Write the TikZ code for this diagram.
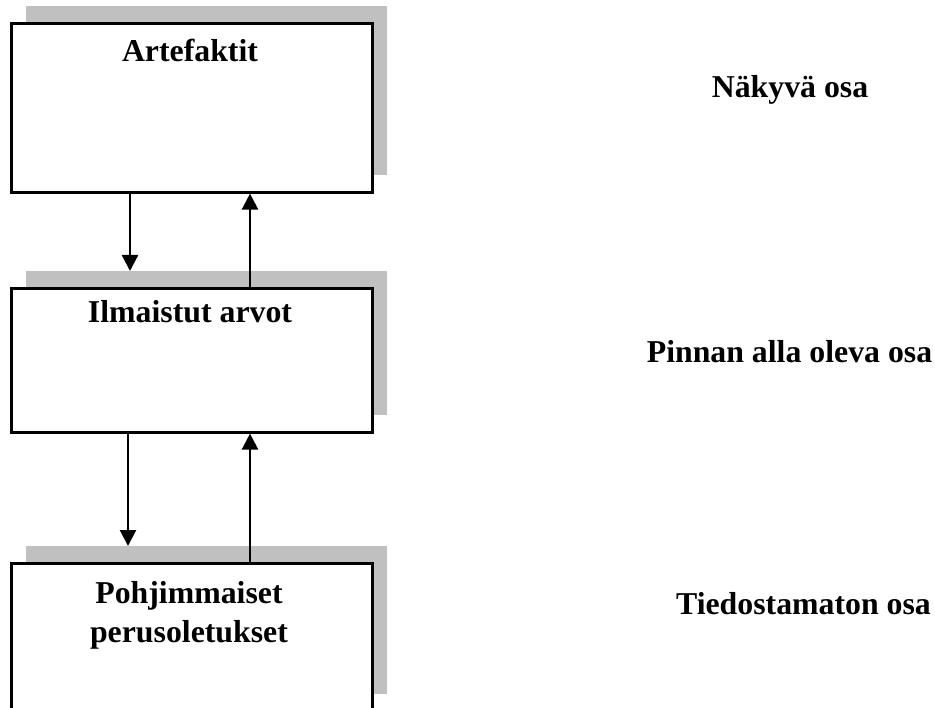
\documentclass[tikz,border=0pt]{standalone}
\usepackage{fontspec}
\setmainfont{Liberation Serif}
\usetikzlibrary{arrows.meta,calc}

\tikzset{
  layerbox/.style={draw=black, fill=white, line width=2.6pt, inner sep=0pt,
    minimum width=361pt, anchor=north west},
  boxshadow/.style={fill=shadowgray, draw=none, inner sep=0pt,
    minimum width=361pt, anchor=north west},
  boxtext/.style={font=\bfseries\fontsize{31.8}{39}\selectfont, inner sep=0pt, align=center},
  sidetext/.style={font=\bfseries\fontsize{31.8}{39}\selectfont, inner sep=0pt, anchor=base},
  flow/.style={line width=2.4pt, -{Triangle[width=16pt,length=16pt]}}
}
\definecolor{shadowgray}{HTML}{C0C0C0}

\begin{document}
\begin{tikzpicture}[x=1pt,y=-1pt]
  \useasboundingbox (0,0) rectangle (935,708);

  % shadows, offset up and to the right
  \node[boxshadow, minimum height=169pt] (s1) at (26,6) {};
  \node[boxshadow, minimum height=144pt] (s2) at (26,271) {};
  \node[boxshadow, minimum height=148pt] (s3) at (26,546) {};

  % the three layers
  \node[layerbox, minimum height=169pt] (b1) at (10,22) {};
  \node[layerbox, minimum height=144pt] (b2) at (10,287) {};
  \node[layerbox, minimum height=150pt] (b3) at (10,562) {};

  % layer titles
  \node[boxtext, anchor=base] (t1) at (190,62) {Artefaktit};
  \node[boxtext, anchor=base] (t2) at (190,323) {Ilmaistut arvot};
  \node[boxtext, anchor=center] (t3) at (189,615.5) {Pohjimmaiset\\perusoletukset};

  % side captions
  \node[sidetext] (c1) at (790,98) {Näkyvä osa};
  \node[sidetext] (c2) at (789.5,363) {Pinnan alla oleva osa};
  \node[sidetext] (c3) at (803.5,614) {Tiedostamaton osa};

  % arrow columns
  \coordinate (down1) at (130,0);
  \coordinate (down2) at (128,0);
  \coordinate (up) at (250,0);

  \draw[flow] (down1 |- b1.south) -- (down1 |- s2.north);
  \draw[flow] (up |- b2.north) -- (up |- b1.south);
  \draw[flow] (down2 |- b2.south) -- (down2 |- s3.north);
  \draw[flow] (up |- b3.north) -- (up |- b2.south);
\end{tikzpicture}
\end{document}
